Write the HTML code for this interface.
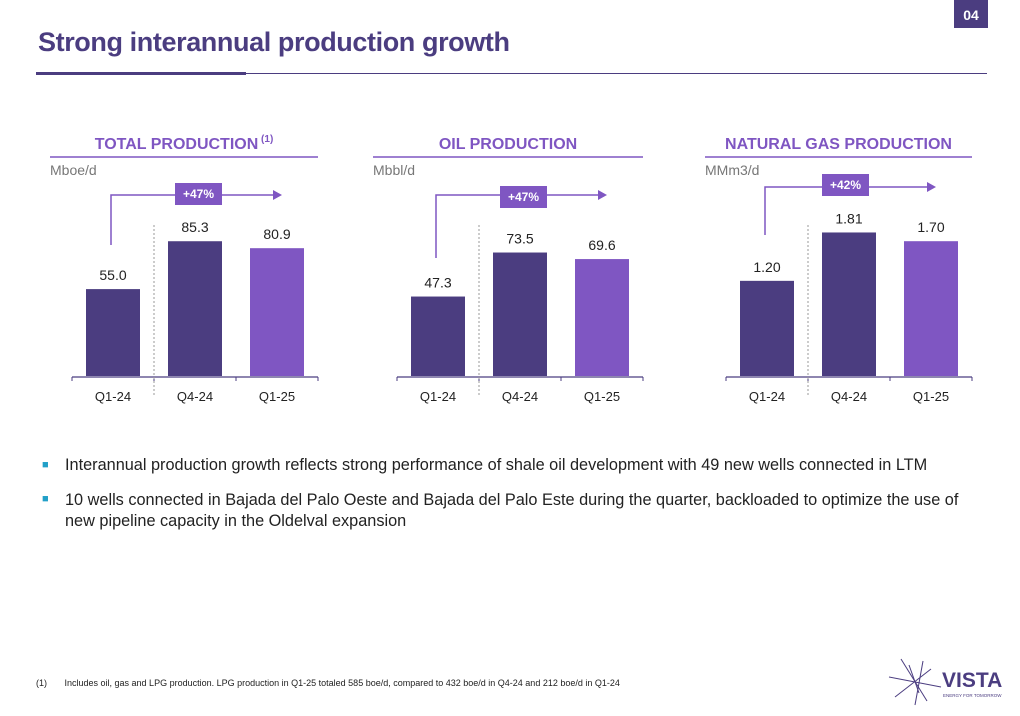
<!DOCTYPE html>
<html><head><meta charset="utf-8"><style>
body{margin:0;width:1020px;height:716px;background:#fff;font-family:"Liberation Sans",sans-serif;position:relative;overflow:hidden}
.abs{position:absolute}
</style></head><body>
<div class="abs" style="left:954px;top:0;width:34px;height:28px;background:#4b3d80;color:#fff;font-weight:bold;font-size:14px;text-align:center;line-height:30px">04</div>
<div class="abs" style="left:38px;top:27px;font-size:27px;font-weight:bold;color:#4b3d80;letter-spacing:-0.4px">Strong interannual production growth</div>
<div class="abs" style="left:36px;top:73px;width:951px;height:1px;background:#4b3d80"></div>
<div class="abs" style="left:36px;top:72px;width:210px;height:3px;background:#4b3d80"></div>
<svg class="abs" style="left:0;top:0" width="1020" height="716" id="charts"></svg>
<div class="abs" style="left:42px;top:456px;font-size:16.3px;color:#222"><span style="color:#22a0c8;font-size:11px;position:absolute;left:0;top:3px">■</span><span style="position:absolute;left:23px;white-space:nowrap">Interannual production growth reflects strong performance of shale oil development with 49 new wells connected in LTM</span></div>
<div class="abs" style="left:42px;top:490px;font-size:16.3px;color:#222;width:935px"><span style="color:#22a0c8;font-size:11px;position:absolute;left:0;top:3px">■</span><div style="margin-left:23px;line-height:21px">10 wells connected in Bajada del Palo Oeste and Bajada del Palo Este during the quarter, backloaded to optimize the use of new pipeline capacity in the Oldelval expansion</div></div>
<div class="abs" style="left:36px;top:678px;font-size:9px;color:#222;white-space:nowrap">(1)&nbsp;&nbsp;&nbsp;&nbsp;&nbsp;&nbsp;&nbsp;Includes oil, gas and LPG production. LPG production in Q1-25 totaled 585 boe/d, compared to 432 boe/d in Q4-24 and 212 boe/d in Q1-24</div>
<div class="abs" style="left:885px;top:655px;width:130px;height:55px">
<svg width="60" height="55" class="abs" style="left:0;top:0"><g stroke="#4b3d80" stroke-width="1"><line x1="4" y1="22" x2="56" y2="32"/><line x1="16" y1="4" x2="42" y2="46"/><line x1="38" y1="6" x2="30" y2="50"/><line x1="10" y1="42" x2="46" y2="14"/><line x1="24" y1="10" x2="34" y2="38"/></g></svg>
<div class="abs" style="left:57px;top:14px;font-size:21px;font-weight:bold;color:#4b3d80">VISTA</div>
<div class="abs" style="left:58px;top:38px;font-size:4.5px;color:#4b3d80;white-space:nowrap">ENERGY FOR TOMORROW</div>
</div>
<script>
const categories=["Q1-24","Q4-24","Q1-25"];
const totalValues=[55.0,85.3,80.9];
const oilValues=[47.3,73.5,69.6];
const gasValues=[1.20,1.81,1.70];
const totalLabels=["55.0","85.3","80.9"];
const oilLabels=["47.3","73.5","69.6"];
const gasLabels=["1.20","1.81","1.70"];
const growthLabels=["+47%","+47%","+42%"];
const ns="http://www.w3.org/2000/svg";
const svg=document.getElementById('charts');
function mk(t,a,p){const e=document.createElementNS(ns,t);for(const k in a)e.setAttribute(k,a[k]);(p||svg).appendChild(e);return e;}
const charts=[
 {name:'total',title:'TOTAL PRODUCTION',sup:'(1)',unit:'Mboe/d',x0:72,ruleX:50,vals:totalValues,labs:totalLabels,scale:1.58,g:growthLabels[0],arrowY:195,boxX:175,boxY:183,lineTop:245},
 {name:'oil',title:'OIL PRODUCTION',sup:'',unit:'Mbbl/d',x0:397,ruleX:373,vals:oilValues,labs:oilLabels,scale:1.68,g:growthLabels[1],arrowY:195,boxX:500,boxY:186,lineTop:258},
 {name:'gas',title:'NATURAL GAS PRODUCTION',sup:'',unit:'MMm3/d',x0:726,ruleX:705,vals:gasValues,labs:gasLabels,scale:79.3,g:growthLabels[2],arrowY:187,boxX:822,boxY:174,lineTop:235}
];
const base=377, colors=["#4b3d80","#4b3d80","#7f56c2"];
charts.forEach(c=>{
 const right=c.x0+246;
 const t=mk('text',{x:(c.ruleX+right)/2,y:149,'text-anchor':'middle','font-size':16,'font-weight':'bold',fill:'#7f56c2'});
 t.textContent=c.title;
 
 
 if(c.sup){const s=mk('tspan',{'font-size':10,dy:-7},t);s.textContent=' '+c.sup;}
 mk('line',{x1:c.ruleX,x2:right,y1:157,y2:157,stroke:'#7f56c2','stroke-width':1.5});
 const u=mk('text',{x:c.ruleX,y:175,'font-size':14,fill:'#777'});u.textContent=c.unit;
 
 
 const xScale=i=>c.x0+14+i*82;
 const yScale=v=>base-1-v*c.scale;
 c.vals.forEach((v,i)=>{
  const r=mk('rect',{x:xScale(i),y:yScale(v),width:54,height:base-1-yScale(v),fill:colors[i]});
  
  
  const l=mk('text',{x:xScale(i)+27,y:yScale(v)-9,'text-anchor':'middle','font-size':14,fill:'#222'});l.textContent=c.labs[i];
  
  
  const k=mk('text',{x:xScale(i)+27,y:401,'text-anchor':'middle','font-size':13,fill:'#222'});k.textContent=categories[i];
  
  
 });
 mk('line',{x1:c.x0,x2:right,y1:base,y2:base,stroke:'#4b3d80','stroke-width':1.2});
 for(let i=0;i<4;i++)mk('line',{x1:c.x0+i*82,x2:c.x0+i*82,y1:base,y2:base+4,stroke:'#4b3d80'});
 mk('line',{x1:c.x0+82,x2:c.x0+82,y1:225,y2:396,stroke:'#999','stroke-dasharray':'2,2'});
 const ax=c.x0+39;
 mk('polyline',{points:`${ax},${c.lineTop} ${ax},${c.arrowY} ${c.x0+203},${c.arrowY}`,fill:'none',stroke:'#7f56c2','stroke-width':1.5});
 mk('polygon',{points:`${c.x0+201},${c.arrowY-5} ${c.x0+210},${c.arrowY} ${c.x0+201},${c.arrowY+5}`,fill:'#7f56c2'});
 mk('rect',{x:c.boxX,y:c.boxY,width:47,height:22,fill:'#7f56c2'});
 const g=mk('text',{x:c.boxX+23.5,y:c.boxY+15,'text-anchor':'middle','font-size':12,'font-weight':'bold',fill:'#fff'});g.textContent=c.g;
 
 
});
</script>
</body></html>
